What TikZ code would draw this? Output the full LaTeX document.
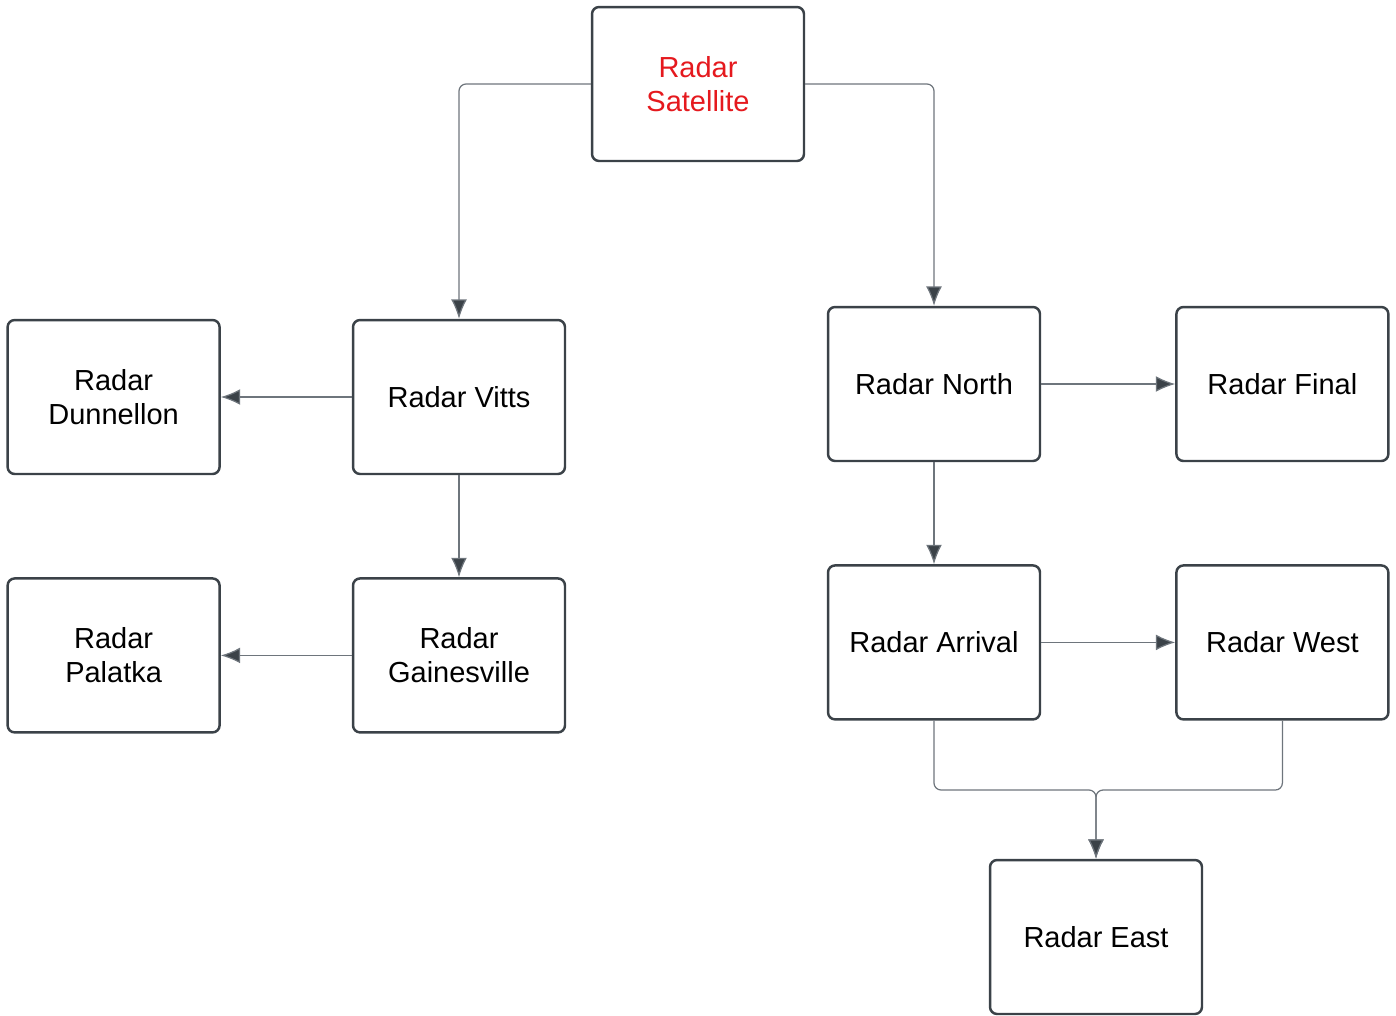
\documentclass[tikz,border=0pt]{standalone}
\usepackage{fontspec}
\setmainfont{Liberation Sans}
\usetikzlibrary{arrows.meta,positioning}
\definecolor{RadarLine}{HTML}{6E757C}
\definecolor{RadarEdge}{HTML}{3B4248}
\definecolor{RadarRed}{HTML}{E5191E}

\begin{document}
\begin{tikzpicture}[x=0.02cm,y=-0.02cm,node distance=2.04cm and 2.68cm]
  \tikzset{radarbox/.style={rounded corners=4pt, draw=RadarEdge, line width=1.4pt, fill=white, minimum height=3.08cm, minimum width=4.24cm, align=center, font=\fontsize{16.5}{19.5}\selectfont},
    link/.style={draw=RadarLine, line width=0.7pt, rounded corners=4pt, -{Latex[length=11pt,width=9pt,fill=RadarEdge]}}}
  \useasboundingbox (0,0) rectangle (1396,1015);
  % left branch
  \node[radarbox, text=RadarRed] (sat) at (698,84) {Radar\\Satellite};
  \node[radarbox] (vitts) at (459,397) {Radar Vitts};
  \node[radarbox, left=2.62cm of vitts] (dunn) {Radar\\Dunnellon};
  \node[radarbox, below=of vitts] (gville) {Radar\\Gainesville};
  \node[radarbox, left=2.62cm of gville] (palat) {Radar\\Palatka};
  % right branch
  \node[radarbox] (north) at (934,384) {Radar North};
  \node[radarbox, right=of north] (final) {Radar Final};
  \node[radarbox, below=of north] (arriv) {Radar Arrival};
  \node[radarbox, right=of arriv] (west) {Radar West};
  \node[radarbox] (east) at (1096,937) {Radar East};
  \coordinate (join) at (1096,790);
  \draw[link] (sat.west) -| (vitts.north);
  \draw[link] (sat.east) -| (north.north);
  \foreach \a/\b in {vitts/dunn,gville/palat,north/final,arriv/west}{\draw[link] (\a) -- (\b);}
  \foreach \a/\b in {vitts/gville,north/arriv}{\draw[link] (\a) -- (\b);}
  \draw[link] (arriv.south) |- (join) -- (east.north);
  \draw[link] (west.south) |- (join) -- (east.north);
\end{tikzpicture}
\end{document}
